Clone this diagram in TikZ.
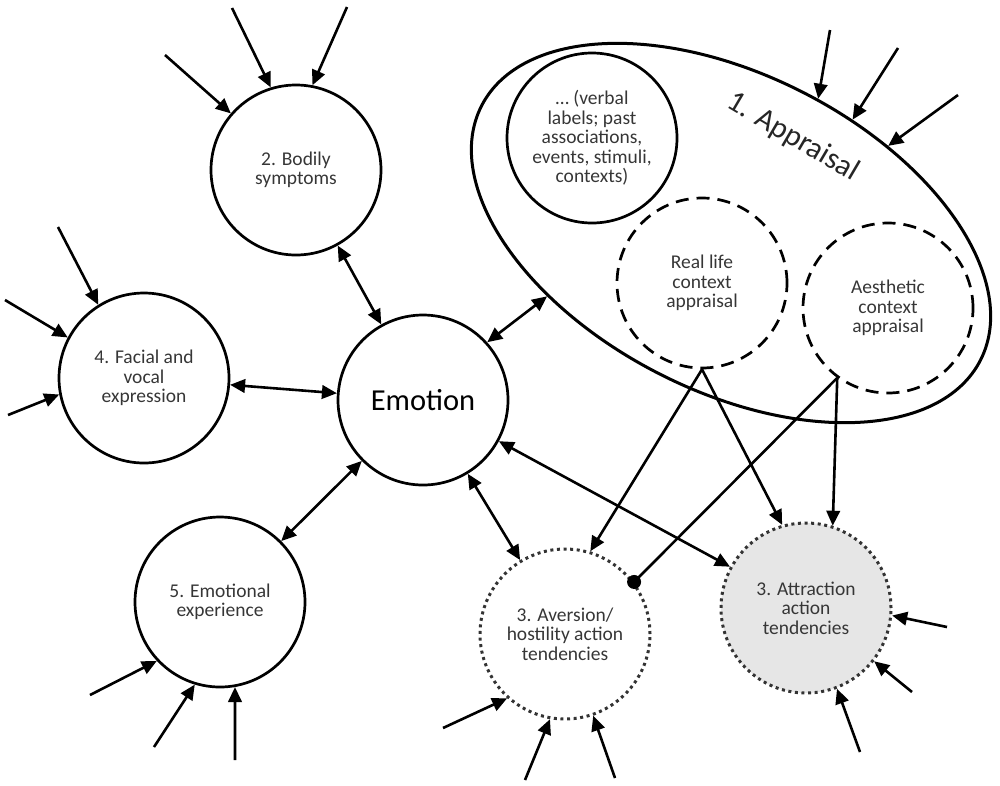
\documentclass[tikz,border=0pt]{standalone}
\usepackage{fontspec}
\setmainfont{Carlito}
\usetikzlibrary{arrows.meta,shapes.geometric}
\definecolor{txt}{HTML}{363636}
\definecolor{attfill}{HTML}{E6E6E6}
\begin{document}
\begin{tikzpicture}[x=1pt,y=-1pt,
  every node/.style={font=\fontsize{19.5}{19.5}\selectfont, text=txt, align=center},
  circ/.style={circle, draw, line width=2.7pt, minimum size=170pt, inner sep=0pt},
  dashc/.style={circ, dash pattern=on 13pt off 8pt},
  dotc/.style={circ, draw=black!80, line width=3pt, dash pattern=on 3pt off 3.6pt},
  con/.style={line width=2.6pt, -{Triangle[length=15pt,width=13.5pt]}},
  bicon/.style={line width=2.6pt, {Triangle[length=15pt,width=13.5pt]}-{Triangle[length=15pt,width=13.5pt]}},
  big/.style={font=\fontsize{30.5}{30.5}\selectfont, text=black}
]
\useasboundingbox (0,0) rectangle (1000,785);

% nodes
\node[circ] (bod) at (296,170) {2. Bodily\\symptoms};
\node[circ] (fac) at (144,378) {4. Facial and\\vocal\\expression};
\node[circ, big] (emo) at (423,400) {Emotion};
\node[circ] (exp) at (220,602) {5. Emotional\\experience};
\node[ellipse, draw, line width=3pt, minimum width=560pt, minimum height=316pt, inner sep=0pt, rotate=-27] (appr) at (731,233) {};
\node[circ] (verb) at (592,138) {… (verbal\\labels; past\\associations,\\events, stimuli,\\contexts)};
\node[dashc] (real) at (702,283) {Real life\\context\\appraisal};
\node[dashc] (aes) at (888,308) {Aesthetic\\context\\appraisal};
\node[dotc] (av) at (565,634) {3. Aversion/\\hostility action\\tendencies};
\node[dotc, fill=attfill] (att) at (806,608) {3. Attraction\\action\\tendencies};
\node[big, text=black!85, rotate=-30.5, inner sep=0pt] (apprlab) at (793,137) {1. Appraisal};

% connectors between nodes
\draw[bicon] (bod) -- (emo);
\draw[bicon] (fac) -- (emo);
\draw[bicon] (emo) -- (exp);
\draw[bicon] (emo) -- (av);
\draw[bicon] (emo) -- (att);
\draw[bicon] (emo.42) -- (appr.226);
\draw[con] (real.south) -- (av.73);
\draw[con] (real.south) -- (att.106);
\draw[con] (aes.-126) -- (att.72);
\draw[line width=2.6pt] (aes.-126) -- (av.37);
\fill (av.37) circle (7pt);

% incoming free arrows
\coordinate (b1) at (165,55);
\coordinate (b2) at (232,8);
\coordinate (b3) at (347,7);
\draw[con] (b1) -- (bod.139.5);
\draw[con] (b2) -- (bod.107);
\draw[con] (b3) -- (bod.79);

\coordinate (f1) at (58,227);
\coordinate (f2) at (5,300);
\coordinate (f3) at (8,415);
\draw[con] (f1) -- (fac.122);
\draw[con] (f2) -- (fac.152);
\draw[con] (f3) -- (fac.-169);

\coordinate (e1) at (90,695);
\coordinate (e2) at (154,747);
\coordinate (e3) at (235,760);
\draw[con] (e1) -- (exp.-137);
\draw[con] (e2) -- (exp.-107);
\draw[con] (e3) -- (exp.-80);

\coordinate (v1) at (443,728);
\coordinate (v2) at (525,780);
\coordinate (v3) at (615,778);
\draw[con] (v1) -- (av.-132);
\draw[con] (v2) -- (av.-100);
\draw[con] (v3) -- (av.-71);

\coordinate (t1) at (947,627);
\coordinate (t2) at (912,692);
\coordinate (t3) at (860,752);
\draw[con] (t1) -- (att.-5);
\draw[con] (t2) -- (att.-38);
\draw[con] (t3) -- (att.-69);

\coordinate (a1) at (830,30);
\coordinate (a2) at (898,48);
\coordinate (a3) at (958,95);
\draw[con] (a1) -- (appr.84);
\draw[con] (a2) -- (appr.70);
\draw[con] (a3) -- (appr.56);
\end{tikzpicture}
\end{document}
